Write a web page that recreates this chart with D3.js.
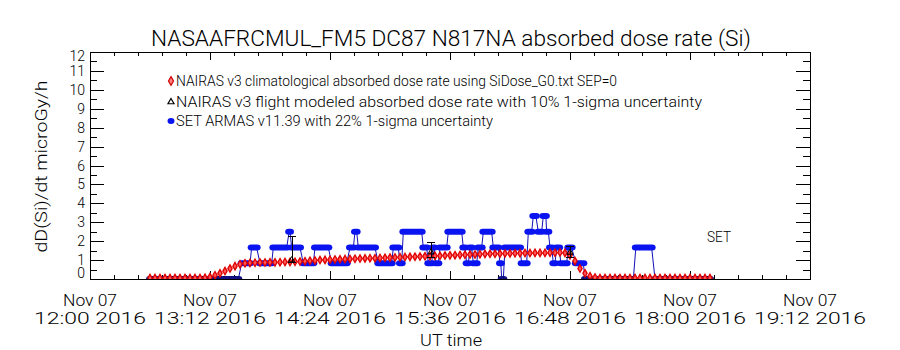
<!DOCTYPE html>
<html>
<head>
<meta charset="utf-8">
<script src="https://cdn.jsdelivr.net/npm/d3@7"></script>
<style>
  html, body { margin: 0; padding: 0; background: #fff; }
  svg { display: block; }
  text { font-family: Roboto, "DejaVu Sans", sans-serif; font-weight: 300; fill: #000; }
</style>
</head>
<body>
<div id="chart"></div>
<script>
// ---- data (times in minutes after 2016-11-07 12:00 UT) ----
const xTickMinutes = [0, 72, 144, 216, 288, 360, 432];
const yTickValues = [0, 1, 2, 3, 4, 5, 6, 7, 8, 9, 10, 11, 12];

// NAIRAS climatological dose rate, sampled every 3 minutes from 12:36 UT
const climStart = 36;
const climStep = 3;
const climValues = [
  0.05, 0.05, 0.05, 0.05, 0.05, 0.05, 0.05, 0.05, 0.05, 0.05, 0.05,
  0.06, 0.10, 0.20, 0.30, 0.42, 0.55, 0.68, 0.78, 0.83, 0.85, 0.86,
  0.87, 0.87, 0.88, 0.88, 0.89, 0.90, 0.90, 0.91, 0.92, 0.94, 0.96,
  0.98, 1.00, 1.01, 1.02, 1.03, 1.04, 1.05, 1.06, 1.07, 1.08, 1.09,
  1.10, 1.10, 1.11, 1.12, 1.13, 1.14, 1.15, 1.16, 1.17, 1.18, 1.19,
  1.20, 1.21, 1.22, 1.23, 1.24, 1.25, 1.26, 1.27, 1.28, 1.29, 1.30,
  1.31, 1.32, 1.33, 1.33, 1.34, 1.35, 1.35, 1.36, 1.36, 1.37, 1.37,
  1.38, 1.38, 1.38, 1.39, 1.39, 1.40, 1.38, 1.25, 0.95, 0.55, 0.30,
  0.15, 0.08, 0.05, 0.05, 0.05, 0.05, 0.05, 0.05, 0.05, 0.05, 0.05,
  0.05, 0.05, 0.05, 0.05, 0.05, 0.05, 0.05, 0.05, 0.05, 0.05, 0.05,
  0.05, 0.05, 0.05
];

// NAIRAS flight-modeled points with their uncertainty bars
const flightTimes = [121, 204.6, 288];
const flightValues = [1.0, 1.42, 1.40];
const flightLow = [0.90, 1.15, 1.15];
const flightHigh = [2.27, 1.96, 1.75];

// SET ARMAS readings as runs of constant dose rate: [start, end, value]
const setRuns = [
  [36, 89, 0], [91, 96, 0.83], [97, 100, 1.66], [102, 109, 0.83],
  [110, 118, 1.66], [119.5, 120, 2.5], [121, 126, 1.66], [128, 134, 0.83],
  [135, 143, 1.66], [145, 154, 0.83], [156, 158, 1.66], [159, 160, 2.5],
  [161, 171, 1.66], [173, 181, 0.83], [182, 185, 1.66], [186, 187, 0.83],
  [188, 199, 2.5], [200, 202, 1.66], [203, 205, 0.83], [206, 206.5, 1.66],
  [207.5, 209, 0.83], [210, 214, 1.66], [215, 223, 2.5], [224, 225, 1.66],
  [226, 227, 0.83], [228, 229, 1.66], [230, 232, 0.83], [233, 235, 1.66],
  [236, 241, 2.5], [242, 245, 1.66], [246, 246.5, 0.83], [247, 248, 0],
  [249, 258, 1.66], [259, 262, 0.83], [263, 265, 2.5], [266, 267.5, 3.33],
  [269, 271, 2.5], [272, 273.5, 3.33], [274, 275, 2.5], [276, 277, 1.66],
  [278, 279, 0.83], [280, 281.5, 1.66], [282.5, 286, 0.83], [287, 289, 1.66],
  [291.5, 296, 0.83], [297, 326, 0], [327.5, 337, 1.66], [339, 372, 0]
];

const legendLabels = [
  "NAIRAS v3 climatological absorbed dose rate using SiDose_G0.txt SEP=0",
  "NAIRAS v3 flight modeled absorbed dose rate with 10% 1-sigma uncertainty",
  "SET ARMAS v11.39 with 22% 1-sigma uncertainty"
];

// ---- layout ----
const W = 900, H = 350;
const plot = { left: 90, right: 810, top: 52, bottom: 279 };
const t0 = Date.UTC(2016, 10, 7, 12, 0);
const toDate = m => new Date(t0 + m * 60000);

const x = d3.scaleUtc()
  .domain([toDate(0), toDate(432)])
  .range([plot.left, plot.right]);
const y = d3.scaleLinear()
  .domain([0, 12])
  .range([plot.bottom, plot.top]);

const svg = d3.select("#chart").append("svg")
  .attr("width", W).attr("height", H);

svg.append("defs").append("clipPath").attr("id", "plotClip")
  .append("rect")
  .attr("x", plot.left).attr("y", plot.top)
  .attr("width", plot.right - plot.left)
  .attr("height", plot.bottom - plot.top);

// title
svg.append("text")
  .attr("x", 451).attr("y", 46)
  .attr("text-anchor", "middle")
  .attr("font-size", 22)
  .attr("textLength", 600).attr("lengthAdjust", "spacingAndGlyphs")
  .text("NASAAFRCMUL_FM5 DC87 N817NA absorbed dose rate (Si)");

// ---- axes ----
const fmtDay = d3.utcFormat("%b %d");
const fmtTime = d3.utcFormat("%H:%M %Y");
const xMajor = xTickMinutes.map(toDate);
const xMinor = d3.range(0, 432, 14.4).filter((m, i) => i % 5 !== 0).map(toDate);

const yMinor = d3.range(0.5, 12, 1);

// bottom/top ticks point into the frame, as do left/right ticks
const bottomAxis = d3.axisBottom(x).tickValues(xMajor).tickSize(-8).tickFormat("");
const bottomMinor = d3.axisBottom(x).tickValues(xMinor).tickSize(-4).tickFormat("");
const topAxis = d3.axisTop(x).tickValues(xMajor).tickSize(-8).tickFormat("");
const topMinor = d3.axisTop(x).tickValues(xMinor).tickSize(-4).tickFormat("");
const leftAxis = d3.axisLeft(y).tickValues(yTickValues).tickSize(-14).tickFormat("");
const leftMinor = d3.axisLeft(y).tickValues(yMinor).tickSize(-7).tickFormat("");
const rightAxis = d3.axisRight(y).tickValues(yTickValues).tickSize(-14).tickFormat("");
const rightMinor = d3.axisRight(y).tickValues(yMinor).tickSize(-7).tickFormat("");

function place(axis, tx, ty) {
  const g = svg.append("g").attr("transform", `translate(${tx},${ty})`).call(axis);
  g.selectAll("path.domain").remove();
  g.selectAll("line").attr("stroke", "#000").attr("shape-rendering", "crispEdges");
  return g;
}
place(bottomAxis, 0, plot.bottom);
place(bottomMinor, 0, plot.bottom);
place(topAxis, 0, plot.top);
place(topMinor, 0, plot.top);
place(leftAxis, plot.left, 0);
place(leftMinor, plot.left, 0);
place(rightAxis, plot.right, 0);
place(rightMinor, plot.right, 0);

svg.append("rect")
  .attr("x", plot.left + 0.5).attr("y", plot.top + 0.5)
  .attr("width", plot.right - plot.left).attr("height", plot.bottom - plot.top)
  .attr("fill", "none").attr("stroke", "#000").attr("stroke-width", 1)
  .attr("shape-rendering", "crispEdges");

// y tick labels (end labels nudged inside the frame)
svg.append("g").selectAll("text").data(yTickValues).join("text")
  .attr("x", plot.left - 5)
  .attr("y", d => Math.min(Math.max(y(d), plot.top + 4), plot.bottom - 6))
  .attr("dy", "0.36em")
  .attr("text-anchor", "end")
  .attr("font-size", 14)
  .text(d => d);

// x tick labels, two lines
const xl = svg.append("g").selectAll("g").data(xMajor).join("g")
  .attr("transform", d => `translate(${x(d)},0)`);
xl.append("text").attr("y", 306).attr("text-anchor", "middle")
  .attr("font-size", 16).attr("textLength", 54).attr("lengthAdjust", "spacingAndGlyphs")
  .text(d => fmtDay(d));
xl.append("text").attr("y", 324).attr("text-anchor", "middle")
  .attr("font-size", 16).attr("textLength", 112).attr("lengthAdjust", "spacingAndGlyphs")
  .text(d => fmtTime(d));

// axis titles
svg.append("text").attr("x", 451).attr("y", 346).attr("text-anchor", "middle")
  .attr("font-size", 17).attr("textLength", 62).attr("lengthAdjust", "spacingAndGlyphs")
  .text("UT time");
svg.append("text")
  .attr("transform", `translate(47,${(plot.top + plot.bottom) / 2 + 1}) rotate(-90)`)
  .attr("text-anchor", "middle")
  .attr("font-size", 17).attr("textLength", 172).attr("lengthAdjust", "spacingAndGlyphs")
  .text("dD(Si)/dt microGy/h");

// ---- data marks ----
const marks = svg.append("g").attr("clip-path", "url(#plotClip)");

// SET ARMAS: thin connecting trace through each run, then the run markers
const setTrace = [];
setRuns.forEach(([s, e, v]) => { setTrace.push([s, v]); setTrace.push([e, v]); });
const line = d3.line().x(d => x(toDate(d[0]))).y(d => y(d[1]));
marks.append("path").datum(setTrace)
  .attr("d", line).attr("fill", "none")
  .attr("stroke", "#1010b8").attr("stroke-width", 1);
marks.append("g").selectAll("rect").data(setRuns).join("rect")
  .attr("x", d => x(toDate(d[0])) - 4)
  .attr("y", d => y(d[2]) - 3)
  .attr("width", d => x(toDate(d[1])) - x(toDate(d[0])) + 8)
  .attr("height", 6)
  .attr("rx", 3.5).attr("ry", 3)
  .attr("fill", d => d[2] === 0 ? "#101080" : "#0a14f0");

// NAIRAS climatological diamonds
const clim = climValues.map((v, i) => [climStart + i * climStep, v]);
const diamond = d3.symbol().type(d3.symbolDiamond).size(16);
marks.append("g").selectAll("path").data(clim).join("path")
  .attr("transform", d => `translate(${x(toDate(d[0]))},${y(d[1])})`)
  .attr("d", diamond)
  .attr("fill", "#ff5a5a").attr("stroke", "#e00000").attr("stroke-width", 1.3);

// NAIRAS flight-modeled points with error bars
const flight = flightTimes.map((t, i) => ({ t, v: flightValues[i], lo: flightLow[i], hi: flightHigh[i] }));
const fb = marks.append("g").attr("stroke", "#000").attr("stroke-width", 1)
  .attr("shape-rendering", "crispEdges");
fb.selectAll("line.v").data(flight).join("line").attr("class", "v")
  .attr("x1", d => Math.round(x(toDate(d.t))) + 0.5).attr("x2", d => Math.round(x(toDate(d.t))) + 0.5)
  .attr("y1", d => y(d.lo)).attr("y2", d => y(d.hi));
["lo", "hi"].forEach(k => {
  fb.selectAll("line." + k).data(flight).join("line").attr("class", k)
    .attr("x1", d => x(toDate(d.t)) - 4).attr("x2", d => x(toDate(d.t)) + 4)
    .attr("y1", d => Math.round(y(d[k])) + 0.5).attr("y2", d => Math.round(y(d[k])) + 0.5);
});
const tri = d3.symbol().type(d3.symbolTriangle).size(16);
marks.append("g").selectAll("path").data(flight).join("path")
  .attr("transform", d => `translate(${x(toDate(d.t))},${y(d.v)})`)
  .attr("d", tri).attr("fill", "none").attr("stroke", "#000").attr("stroke-width", 1);

// series tag
svg.append("text").attr("x", 707).attr("y", 242).attr("font-size", 15)
  .attr("textLength", 24).attr("lengthAdjust", "spacingAndGlyphs").text("SET");

// ---- legend ----
const legend = svg.append("g");
const legY = [81, 102, 121];
const legW = [441, 526, 317];
legend.selectAll("text").data(legendLabels).join("text")
  .attr("x", 176).attr("y", (d, i) => legY[i] + 5)
  .attr("font-size", 14)
  .attr("textLength", (d, i) => legW[i]).attr("lengthAdjust", "spacingAndGlyphs")
  .text(d => d);
legend.append("path").attr("transform", `translate(171,${legY[0]})`)
  .attr("d", d3.symbol().type(d3.symbolDiamond).size(22))
  .attr("fill", "#ff8080").attr("stroke", "#d00000").attr("stroke-width", 1.2);
legend.append("path").attr("transform", `translate(171,${legY[1]})`)
  .attr("d", tri).attr("fill", "none").attr("stroke", "#000").attr("stroke-width", 1.2);
legend.append("ellipse").attr("cx", 171).attr("cy", legY[2])
  .attr("rx", 3.5).attr("ry", 3).attr("fill", "#0a14f0");
</script>
</body>
</html>
